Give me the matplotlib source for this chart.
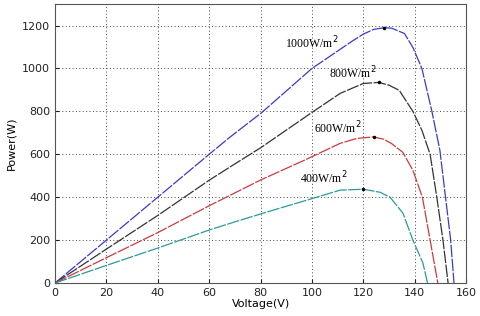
import matplotlib
matplotlib.use("Agg")
import matplotlib.pyplot as plt

# Data
v1000 = [0, 20, 40, 60, 68, 80.5, 100, 116, 120, 124, 128, 131, 136, 139.3, 142.8, 146.7, 149.8, 152, 154, 155.3]
p1000 = [0, 200, 400, 600, 679, 795, 1000, 1130, 1160, 1182, 1190, 1188, 1163, 1098, 1000, 800, 619, 400, 200, 0]
v800 = [0, 20, 40, 60, 68, 80, 100, 111, 120, 126, 130, 134, 139.3, 142.8, 146, 148.6, 151, 153]
p800 = [0, 158, 315, 479, 540, 630, 795, 884, 930, 935, 922, 898, 800, 712, 600, 400, 200, 0]
v600 = [0, 20, 40, 60, 70, 80, 97, 111, 117.5, 124, 128, 131, 135.4, 139.3, 143, 146, 149]
p600 = [0, 118, 235, 360, 420, 480, 572, 651, 674, 681, 670, 650, 609, 525, 400, 200, 0]
v400 = [0, 20, 40, 60, 70, 85, 98, 111, 120, 126.5, 130.4, 135.4, 139.3, 143.2, 145]
p400 = [0, 82, 163, 247, 285, 340, 386, 433, 437, 423, 400, 326, 200, 93, 0]
peaks_v = [128, 126, 124, 120]
peaks_p = [1190, 935, 681, 437]
labels = ["1000W/m$^2$", "800W/m$^2$", "600W/m$^2$", "400W/m$^2$"]
label_pos = [(89.5, 1121), (106.6, 981), (100.8, 721), (95.3, 490)]
xticks = [0, 20, 40, 60, 80, 100, 120, 140, 160]
yticks = [0, 200, 400, 600, 800, 1000, 1200]

fig = plt.figure(figsize=(4.8, 3.16), dpi=100)
ax = fig.add_axes([0.1146, 0.1044, 0.8564, 0.8826])

series = [(v1000, p1000, "#3a3acc"), (v800, p800, "#333333"),
          (v600, p600, "#cc3a3a"), (v400, p400, "#2a9a9a")]
for v, p, c in series:
    ax.plot(v, p, color=c, lw=0.9, dashes=(10, 1.2))
ax.plot(peaks_v, peaks_p, "k.", ms=3)
for (x, y), t in zip(label_pos, labels):
    ax.text(x, y, t, fontsize=8.5, family="Liberation Serif", ha="left", va="center")

ax.set_xlim(0, 160)
ax.set_ylim(0, 1300)
ax.set_xticks(xticks)
ax.set_yticks(yticks)
ax.grid(True, color="#444444", linestyle=(0, (1, 2.5)), lw=0.7)
ax.tick_params(direction="in", labelsize=8, length=3, colors="#222222")
for s in ax.spines.values():
    s.set_color("#555555")
    s.set_linewidth(0.8)
ax.set_xlabel("Voltage(V)", fontsize=8, labelpad=1)
ax.set_ylabel("Power(W)", fontsize=8, labelpad=4)
fig.savefig("out.png", dpi=100)
